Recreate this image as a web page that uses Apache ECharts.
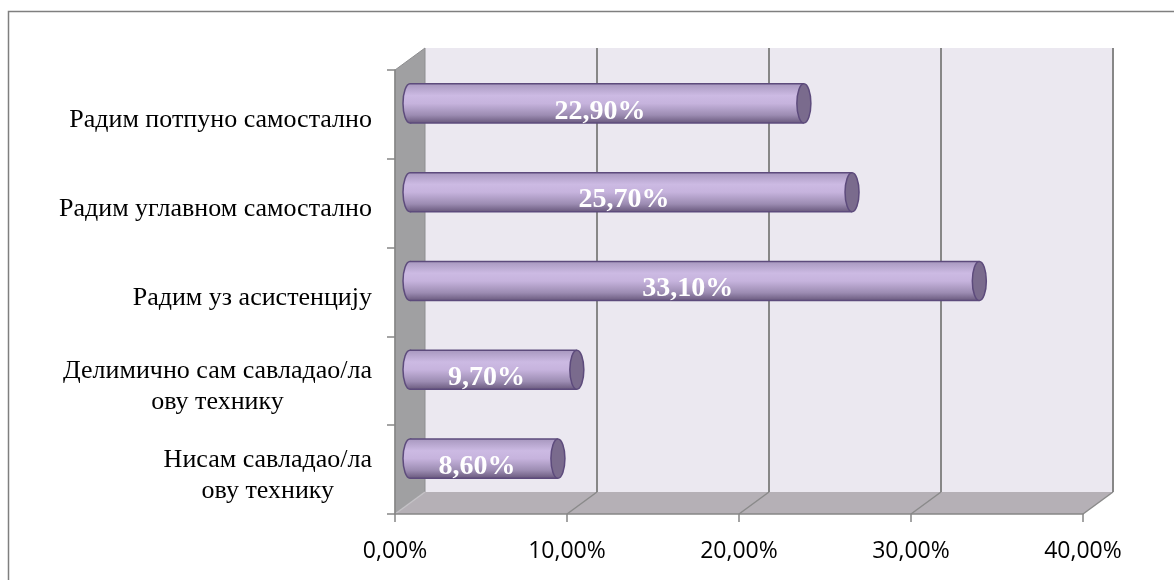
<!DOCTYPE html>
<html>
<head>
<meta charset="utf-8">
<script src="https://cdn.jsdelivr.net/npm/echarts@6/dist/echarts.min.js"></script>
<style>
  html, body { margin: 0; padding: 0; background: #fff; }
  #chart { width: 1174px; height: 580px; }
</style>
</head>
<body>
<div id="chart"></div>
<script>
// Categories listed bottom-to-top, as the category axis places them
const categories = [
  'Нисам савладао/ла\nову технику',
  'Делимично сам савладао/ла\nову технику',
  'Радим уз асистенцију',
  'Радим углавном самостално',
  'Радим потпуно самостално'
];
const values = [8.6, 9.7, 33.1, 25.7, 22.9];
const xTicks = [0, 10, 20, 30, 40];

// Pseudo-3D depth of the plot box (pixels)
const DEPTH_X = 30;
const DEPTH_Y = -22;

function pct(v) {
  return v.toFixed(2).replace('.', ',') + '%';
}

function renderBackdrop(params, api) {
  const cs = params.coordSys;
  const left = cs.x, right = cs.x + cs.width;
  const top = cs.y, bottom = cs.y + cs.height;
  const dx = DEPTH_X, dy = DEPTH_Y;
  const children = [];
  // back wall
  children.push({
    type: 'rect',
    shape: { x: left + dx, y: top + dy, width: cs.width, height: cs.height },
    style: { fill: '#ebe8f0' }
  });
  // side wall
  children.push({
    type: 'polygon',
    shape: { points: [[left, top], [left + dx, top + dy], [left + dx, bottom + dy], [left, bottom]] },
    style: { fill: '#a0a0a2', stroke: '#8e8e90', lineWidth: 1 }
  });
  // floor
  children.push({
    type: 'polygon',
    shape: { points: [[left, bottom], [left + dx, bottom + dy], [right + dx, bottom + dy], [right, bottom]] },
    style: { fill: '#b5b0b6' }
  });
  xTicks.forEach(function (t) {
    const x = api.coord([t, 0])[0];
    if (t > 0) {
      children.push({
        type: 'line',
        shape: { x1: x + dx, y1: top + dy, x2: x + dx, y2: bottom + dy },
        style: { stroke: '#878787', lineWidth: 2 }
      });
    }
    children.push({
      type: 'line',
      shape: { x1: x, y1: bottom, x2: x + dx, y2: bottom + dy },
      style: { stroke: t > 0 ? '#8a8a8a' : '#c4c2c6', lineWidth: 1.5 }
    });
  });
  return { type: 'group', children: children };
}

function renderCylinder(params, api) {
  const val = api.value(0);
  const idx = api.value(1);
  const base = api.coord([0, idx]);
  const end = api.coord([val, idx]);
  const band = api.size([0, 1])[1];
  const h = band * 0.44;
  const cy = base[1] + DEPTH_Y / 2;
  const x0 = base[0] + DEPTH_X / 2;
  const x1 = end[0] + DEPTH_X / 2;
  const rx = 7, ry = h / 2;
  const body = new echarts.graphic.LinearGradient(0, 0, 0, 1, [
    { offset: 0, color: '#a898bf' },
    { offset: 0.3, color: '#ccbae3' },
    { offset: 0.5, color: '#c6b3dd' },
    { offset: 0.8, color: '#9c8cb2' },
    { offset: 1, color: '#6a5a7e' }
  ]);
  const edge = '#5d4b7c';
  return {
    type: 'group',
    children: [
      { type: 'ellipse', shape: { cx: x0, cy: cy, rx: rx, ry: ry }, style: { fill: body, stroke: edge, lineWidth: 1.5 } },
      { type: 'rect', shape: { x: x0, y: cy - ry, width: x1 - x0, height: h }, style: { fill: body } },
      { type: 'line', shape: { x1: x0, y1: cy - ry, x2: x1, y2: cy - ry }, style: { stroke: edge, lineWidth: 1.5 } },
      { type: 'line', shape: { x1: x0, y1: cy + ry, x2: x1, y2: cy + ry }, style: { stroke: edge, lineWidth: 1.5 } },
      { type: 'ellipse', shape: { cx: x1, cy: cy, rx: rx, ry: ry }, style: { fill: '#7a6b8d', stroke: edge, lineWidth: 1.5 } },
      {
        type: 'text',
        x: (x0 + x1) / 2 - 7,
        y: cy + 8,
        style: {
          text: pct(val),
          fill: '#ffffff',
          font: 'bold 28px "Liberation Serif", "Times New Roman", serif',
          align: 'center',
          verticalAlign: 'middle'
        }
      }
    ]
  };
}

const chart = echarts.init(document.getElementById('chart'), null, { renderer: 'canvas' });

chart.setOption({
  animation: false,
  backgroundColor: '#ffffff',
  grid: { left: 395, right: 91, top: 70, bottom: 66, outerBoundsMode: 'none' },
  xAxis: {
    type: 'value',
    min: 0,
    max: 40,
    interval: 10,
    z: 5,
    axisLine: { show: true, lineStyle: { color: '#868686', width: 1.5 } },
    axisTick: { show: true, length: 8, lineStyle: { color: '#868686', width: 1.5 } },
    splitLine: { show: false },
    axisLabel: {
      margin: 26,
      color: '#000000',
      fontFamily: '"Open Sans", sans-serif',
      fontSize: 23,
      formatter: function (v) { return pct(v); }
    }
  },
  yAxis: {
    type: 'category',
    data: categories,
    z: 5,
    axisLine: { show: true, lineStyle: { color: '#868686', width: 1.5 } },
    axisTick: { show: true, length: 8, lineStyle: { color: '#868686', width: 1.5 } },
    splitLine: { show: false },
    axisLabel: {
      margin: 23,
      align: 'right',
      padding: [12, 0, 0, 0],
      formatter: function (v) {
        return v.split('\n').map(function (s) { return '{c|' + s + '}'; }).join('\n');
      },
      rich: {
        c: {
          align: 'center',
          color: '#000000',
          fontFamily: '"Liberation Serif", "Times New Roman", serif',
          fontSize: 26,
          lineHeight: 31
        }
      }
    }
  },
  graphic: [{
    type: 'rect',
    shape: { x: 8.5, y: 11.5, width: 1200, height: 600 },
    style: { fill: 'none', stroke: '#7f7f7f', lineWidth: 1.5 },
    z: 100
  }],
  series: [
    {
      type: 'custom',
      name: 'backdrop',
      z: 1,
      clip: false,
      silent: true,
      renderItem: renderBackdrop,
      encode: { x: 0, y: 1 },
      data: [[0, categories[0]]]
    },
    {
      type: 'custom',
      name: 'share',
      z: 3,
      clip: false,
      renderItem: renderCylinder,
      encode: { x: 0, y: 1 },
      data: values.map(function (v, i) { return [v, categories[i]]; })
    }
  ]
});
</script>
</body>
</html>
